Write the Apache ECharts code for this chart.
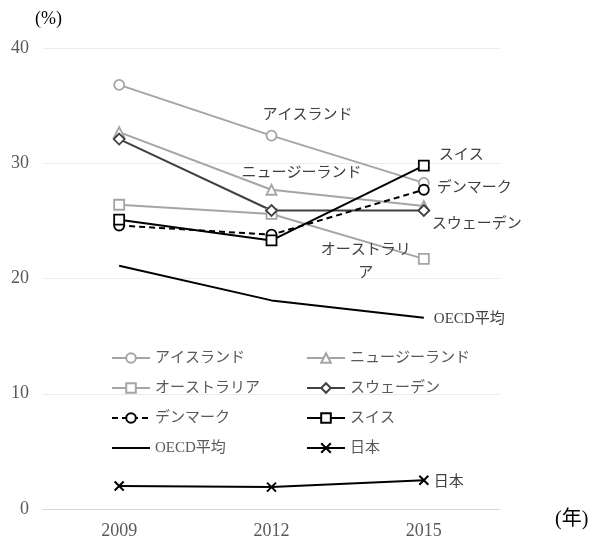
<!DOCTYPE html>
<html><head><meta charset="utf-8">
<script src="https://cdn.jsdelivr.net/npm/echarts@6/dist/echarts.min.js"></script>
<style>html,body{margin:0;padding:0;background:#fff}#c{width:615px;height:541px}</style>
</head><body><div id="c"></div>
<script>
const years = ['2009', '2012', '2015'];
const seriesNames = ['アイスランド', 'ニュージーランド', 'オーストラリア', 'スウェーデン', 'デンマーク', 'スイス', 'OECD平均', '日本'];
const iceland = [36.8, 32.4, 28.3];
const newZealand = [32.7, 27.7, 26.3];
const australia = [26.4, 25.6, 21.7];
const sweden = [32.1, 25.9, 25.9];
const denmark = [24.6, 23.8, 27.7];
const switzerland = [25.1, 23.3, 29.8];
const oecd = [21.1, 18.1, 16.6];
const japan = [2.0, 1.9, 2.5];
const yTicks = [0, 10, 20, 30, 40];

const FONT = "'Liberation Serif', 'Noto Sans CJK JP', serif";
const GRAY = '#a5a5a5';
const DARK = '#404040';
const BLACK = '#000000';
const labelStyle = { color: '#404040', fontSize: 15, fontFamily: FONT };

function withLabel(values, idx, cfg) {
  return values.map((v, i) => i === idx ? { value: v, label: Object.assign({ show: true, position: 'inside' }, labelStyle, cfg) } : v);
}
function mk(name, values, color, symbol, extra) {
  return Object.assign({
    name, type: 'line', data: values,
    symbol, symbolSize: 10, showSymbol: true,
    lineStyle: { color, width: 2 },
    itemStyle: { color: '#fff', borderColor: color, borderWidth: 1.8 },
    emphasis: { disabled: true },
    animation: false
  }, extra || {});
}
const crossPath = 'path://M0,0L10,10M10,0L0,10';
const legendText = { color: '#595959', fontSize: 15, fontFamily: FONT, height: 18, lineHeight: 18 };

const chart = echarts.init(document.getElementById('c'));
chart.setOption({
  animation: false,
  grid: { left: 43, right: 115, top: 48, bottom: 32, containLabel: false },
  xAxis: {
    type: 'category', data: years, boundaryGap: true,
    axisLine: { show: true, lineStyle: { color: '#d9d9d9', width: 1 } },
    axisTick: { show: false },
    axisLabel: { color: '#595959', fontSize: 18, fontFamily: FONT, margin: 13 }
  },
  yAxis: {
    type: 'value', min: yTicks[0], max: yTicks[yTicks.length - 1], interval: 10,
    axisLine: { show: false }, axisTick: { show: false },
    axisLabel: { color: '#595959', fontSize: 18, fontFamily: FONT, margin: 14 },
    splitLine: { lineStyle: { color: '#ececec', width: 1 } }
  },
  graphic: [
    { type: 'text', left: 35, top: 10, style: { text: '(%)', fontSize: 18, fontFamily: FONT, fill: '#000' } },
    { type: 'text', left: 555, top: 510, style: { text: '(年)', fontSize: 20, fontFamily: FONT, fill: '#000' } }
  ],
  legend: [
    { orient: 'vertical', left: 106, top: 344, itemWidth: 38, itemHeight: 12, itemGap: 12,
      textStyle: legendText,
      data: [seriesNames[0], seriesNames[2], seriesNames[4], { name: seriesNames[6], itemStyle: { opacity: 0 } }] },
    { orient: 'vertical', left: 301, top: 344, itemWidth: 38, itemHeight: 12, itemGap: 12,
      textStyle: legendText,
      data: [seriesNames[1], seriesNames[3], seriesNames[5], seriesNames[7]] }
  ],
  series: [
    mk(seriesNames[0], withLabel(iceland, 1, { offset: [36, -21], align: 'center' }), GRAY, 'circle'),
    mk(seriesNames[1], withLabel(newZealand, 1, { offset: [30, -17], align: 'center' }), GRAY, 'triangle'),
    mk(seriesNames[2], withLabel(australia, 2, { formatter: 'オーストラリ\nア', offset: [-58, 3], align: 'center', lineHeight: 23 }), GRAY, 'rect'),
    mk(seriesNames[3], withLabel(sweden, 2, { formatter: 'スウェーデン', offset: [8, 14], align: 'left' }), DARK, 'diamond', { symbolSize: 11 }),
    mk(seriesNames[4], withLabel(denmark, 2, { formatter: 'デンマーク', offset: [13, -2], align: 'left' }), BLACK, 'circle',
      { lineStyle: { color: BLACK, width: 2, type: [6, 4] } }),
    mk(seriesNames[5], withLabel(switzerland, 2, { formatter: 'スイス', offset: [15, -10], align: 'left' }), BLACK, 'rect'),
    mk(seriesNames[6], oecd, BLACK, 'none',
      { itemStyle: { color: BLACK },
        endLabel: Object.assign({ show: true, formatter: 'OECD平均', distance: 10, offset: [0, 1] }, labelStyle) }),
    mk(seriesNames[7], withLabel(japan, 2, { formatter: '日本', offset: [10, 2], align: 'left' }), BLACK, crossPath,
      { symbolSize: 9, itemStyle: { color: BLACK, borderColor: BLACK, borderWidth: 2 } })
  ].map(s => {
    s.data = s.data.map(d => (typeof d === 'object' && d.label && !d.label.formatter) ? Object.assign(d, { label: Object.assign(d.label, { formatter: s.name }) }) : d);
    return s;
  })
});
</script></body></html>
